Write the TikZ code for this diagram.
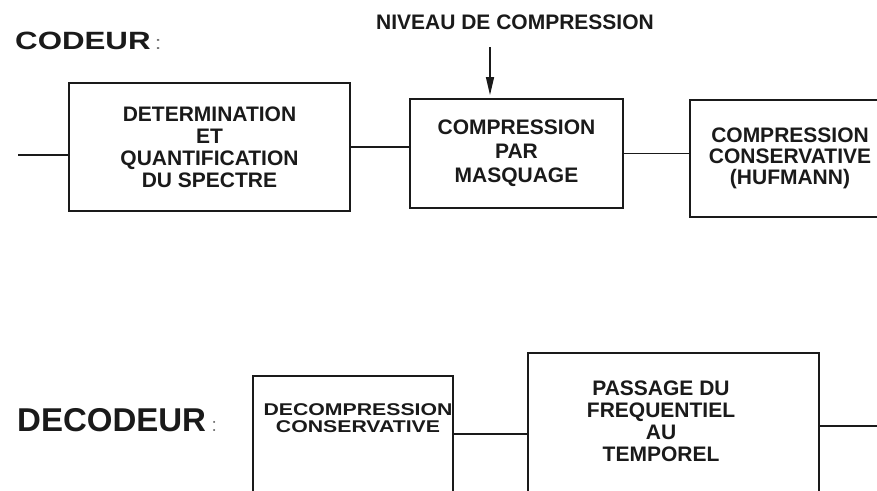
\documentclass[tikz,border=0pt]{standalone}
\usepackage{fontspec}
\setmainfont{Liberation Sans}
\newfontfamily\widesans[FakeStretch=1.25]{Liberation Sans}
\usetikzlibrary{arrows.meta,positioning}
\definecolor{DiagInk}{HTML}{1A1A1A}

\begin{document}
\begin{tikzpicture}[
  x=1pt,y=-1pt,
  font=\bfseries\fontsize{21}{22}\selectfont,
  block/.style={rectangle,draw=DiagInk,line width=1.8pt,align=center,inner sep=0pt,text=DiagInk},
  txt/.style={align=center,inner sep=0pt,text=DiagInk},
  title/.style={anchor=west,inner sep=0pt,text=DiagInk},
  wire/.style={draw=DiagInk,line width=1.4pt},
  feed/.style={-{Triangle[length=18pt,width=8pt]},draw=DiagInk,line width=1.4pt,shorten >=3pt}
]
\useasboundingbox (0,0) rectangle (877,490);
\clip (0,0) rectangle (877,490);

% codeur
\node[title,font=\widesans\bfseries\fontsize{25}{25}\selectfont] (codeur) at (15,41)
  {CODEUR\,{\mdseries\fontsize{19}{19}\selectfont\color{DiagInk!60}:}};
\node[txt] (niveau) at (515,22.5) {NIVEAU DE COMPRESSION};

\node[block,minimum width=281pt,minimum height=128pt] (spectre) at (209.5,147)
  {DETERMINATION\\ET\\QUANTIFICATION\\DU SPECTRE};
\node[block,minimum width=213pt,minimum height=109pt,font=\bfseries\fontsize{21}{24}\selectfont] (masquage) at (516.5,153.5)
  {COMPRESSION\\PAR\\MASQUAGE};
\node[block,minimum width=200pt,minimum height=117pt,font=\bfseries\fontsize{21}{21}\selectfont] (hufmann) at (790,158.5)
  {COMPRESSION\\CONSERVATIVE\\(HUFMANN)};

\coordinate (entree) at (18,155);
\coordinate (niv) at (490,47);

\draw[wire] (entree) -- (entree -| spectre.west);
\draw[wire] (spectre.east) -- (spectre.east -| masquage.west);
\draw[wire] (masquage.east) -- (masquage.east -| hufmann.west);
\draw[feed] (niv) -- (niv |- masquage.north);

% decodeur
\node[title,font=\bfseries\fontsize{33}{33}\selectfont] (decodeur) at (17,420.5)
  {DECODEUR\,{\mdseries\fontsize{19}{19}\selectfont\color{DiagInk!60}:}};

\node[block,minimum width=200pt,minimum height=116pt] (decomp) at (353,434) {};
\node[txt,font=\widesans\bfseries\fontsize{17}{17}\selectfont] (decomptxt) at (358,418)
  {DECOMPRESSION\\CONSERVATIVE};
\node[block,minimum width=291pt,minimum height=160pt] (passage) at (673.5,433) {};
\node[txt] (passagetxt) at (661,421) {PASSAGE DU\\FREQUENTIEL\\AU\\TEMPOREL};

\coordinate (sortie) at (877,426);

\draw[wire] (decomp.east) -- (decomp.east -| passage.west);
\draw[wire] (passage.east |- sortie) -- (sortie);
\end{tikzpicture}
\end{document}
